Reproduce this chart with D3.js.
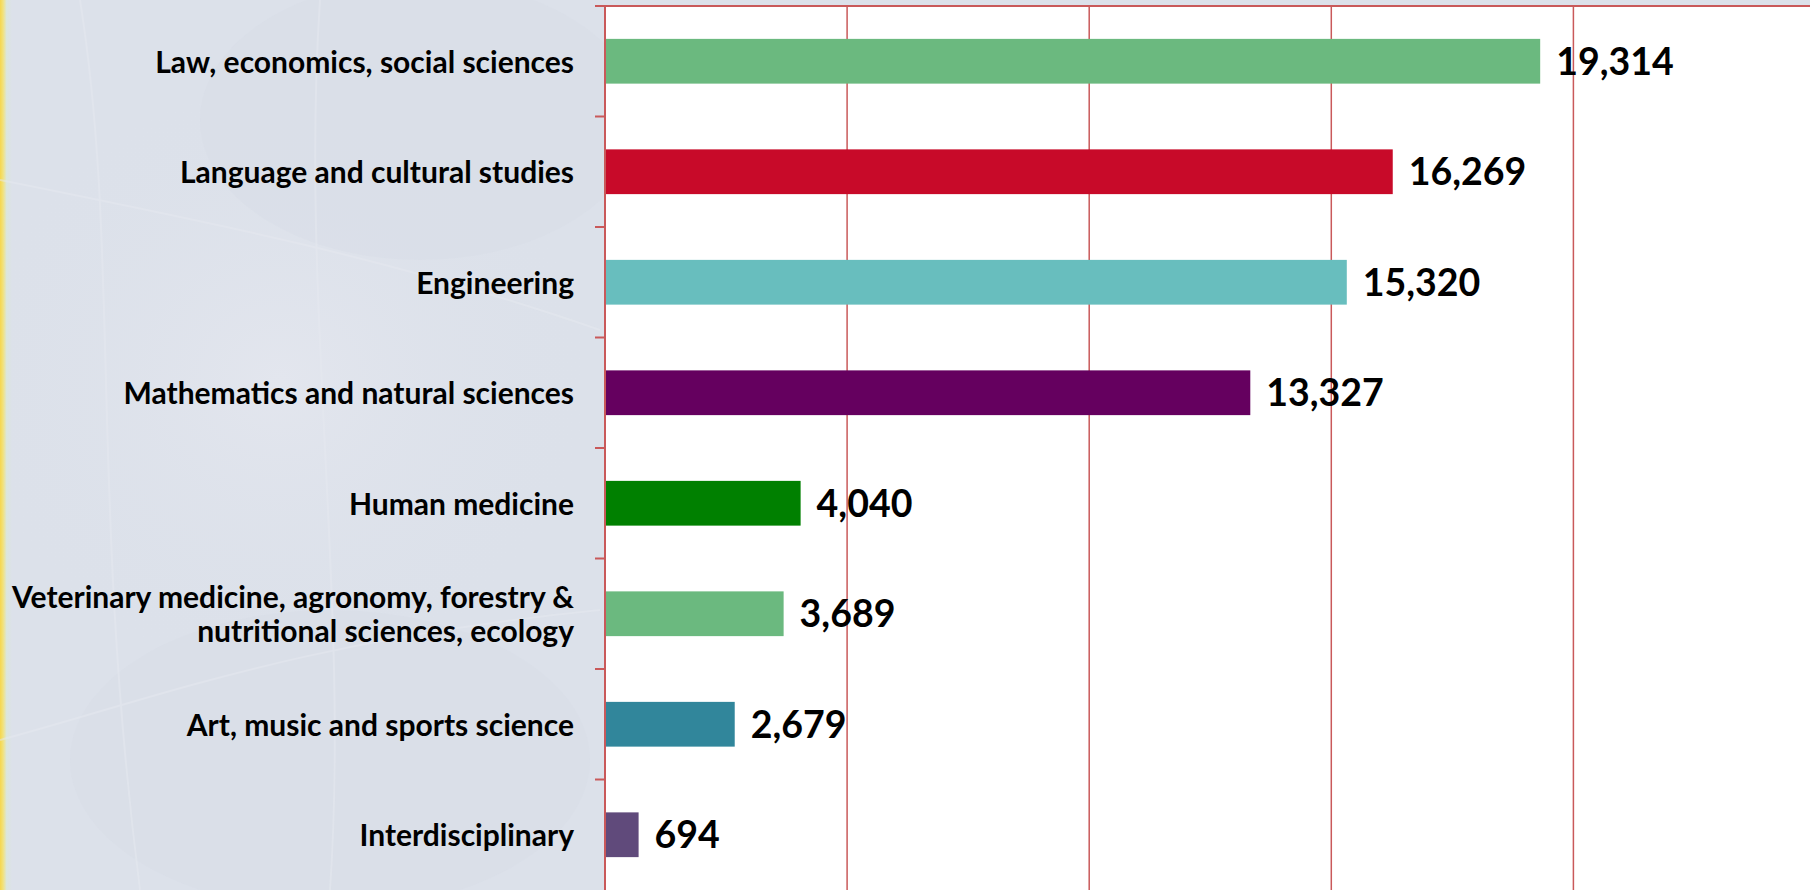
<!DOCTYPE html>
<html>
<head>
<meta charset="utf-8">
<script src="https://cdn.jsdelivr.net/npm/d3@7"></script>
<style>
  html, body { margin: 0; padding: 0; background: #dce1ea; overflow: hidden; }
  svg { display: block; }
</style>
</head>
<body>
<svg id="chart"></svg>
<script>
'use strict';

// data
var categories = [
  'Law, economics, social sciences',
  'Language and cultural studies',
  'Engineering',
  'Mathematics and natural sciences',
  'Human medicine',
  'Veterinary medicine, agronomy, forestry &\nnutritional sciences, ecology',
  'Art, music and sports science',
  'Interdisciplinary'
];
var values = [19314, 16269, 15320, 13327, 4040, 3689, 2679, 694];
var barColors = ['#6bb97f', '#c80a29', '#68bebe', '#65005f', '#008000', '#6bb97f', '#31869b', '#604a7b'];
var gridTicks = [5000, 10000, 15000, 20000];

var width = 1810, height = 890;
var margin = {top: 6, left: 605};
var lineColor = '#c9595a';

var svg = d3.select('#chart').attr('width', width).attr('height', height);

// background: grey-blue panel with a yellow strip on the far left
var defs = svg.append('defs');
var edge = defs.append('linearGradient').attr('id', 'edge')
  .attr('x1', 0).attr('x2', 1).attr('y1', 0).attr('y2', 0);
edge.append('stop').attr('offset', '0%').attr('stop-color', '#f6d64c');
edge.append('stop').attr('offset', '25%').attr('stop-color', '#f1e27a');
edge.append('stop').attr('offset', '55%').attr('stop-color', '#dbe6dc');
edge.append('stop').attr('offset', '100%').attr('stop-color', '#dce1ea');

var glow = defs.append('radialGradient').attr('id', 'glow');
glow.append('stop').attr('offset', '0%').attr('stop-color', '#e3e6ee');
glow.append('stop').attr('offset', '100%').attr('stop-color', '#dce1ea').attr('stop-opacity', 0);

svg.append('rect').attr('width', width).attr('height', height).attr('fill', '#dce1ea');
svg.append('ellipse').attr('cx', 280).attr('cy', 380).attr('rx', 320).attr('ry', 300).attr('fill', 'url(#glow)');
svg.append('ellipse').attr('cx', 420).attr('cy', 120).attr('rx', 220).attr('ry', 140).attr('fill', '#d6dbe5').attr('opacity', 0.4);
svg.append('ellipse').attr('cx', 330).attr('cy', 760).attr('rx', 260).attr('ry', 150).attr('fill', '#d8dde7').attr('opacity', 0.4);
svg.append('rect').attr('width', 12).attr('height', height).attr('fill', 'url(#edge)');

// faint map-like strokes
var faint = svg.append('g').attr('stroke', '#e6e9f0').attr('stroke-width', 2).attr('fill', 'none').attr('opacity', 0.5);
faint.append('path').attr('d', 'M0,740 C150,700 300,640 600,610');
faint.append('path').attr('d', 'M80,0 C120,250 90,500 140,890');
faint.append('path').attr('d', 'M0,180 C200,220 400,260 600,330');
faint.append('path').attr('d', 'M320,0 C300,300 350,600 330,890');

// scales
var x = d3.scaleLinear().domain([0, 25000]).range([margin.left, margin.left + 5 * 242.1]);
var y = d3.scaleBand().domain(categories).range([margin.top, height]).paddingInner(0).paddingOuter(0);
var barH = y.bandwidth() * 0.405;

// plot area
svg.append('rect')
  .attr('x', margin.left).attr('y', margin.top)
  .attr('width', width - margin.left).attr('height', height - margin.top)
  .attr('fill', '#ffffff');

// vertical gridlines
svg.append('g').attr('class', 'grid')
  .selectAll('line')
  .data(gridTicks)
  .enter().append('line')
  .attr('x1', function (d) { return x(d); })
  .attr('x2', function (d) { return x(d); })
  .attr('y1', margin.top)
  .attr('y2', height)
  .attr('stroke', lineColor)
  .attr('stroke-width', 1.5);

// bars
svg.append('g').attr('class', 'bars')
  .selectAll('rect')
  .data(values)
  .enter().append('rect')
  .attr('x', x(0))
  .attr('y', function (d, i) { return y(categories[i]) + (y.bandwidth() - barH) / 2; })
  .attr('width', function (d) { return x(d) - x(0); })
  .attr('height', barH)
  .attr('fill', function (d, i) { return barColors[i]; });

// top border
svg.append('line')
  .attr('x1', margin.left - 10).attr('x2', width)
  .attr('y1', margin.top).attr('y2', margin.top)
  .attr('stroke', lineColor).attr('stroke-width', 2);

// category axis with ticks between categories
var axis = svg.append('g').attr('class', 'y-axis');
axis.append('line')
  .attr('x1', x(0)).attr('x2', x(0))
  .attr('y1', margin.top).attr('y2', height)
  .attr('stroke', lineColor).attr('stroke-width', 2);
axis.selectAll('line.tick')
  .data(categories)
  .enter().append('line')
  .attr('class', 'tick')
  .attr('x1', x(0) - 10).attr('x2', x(0))
  .attr('y1', function (d) { return y(d); })
  .attr('y2', function (d) { return y(d); })
  .attr('stroke', lineColor).attr('stroke-width', 2);

var fontFamily = 'Lato, "Open Sans", sans-serif';

// category labels (multi-line where the name has a break)
var labels = axis.selectAll('text')
  .data(categories)
  .enter().append('text')
  .attr('x', 574)
  .attr('text-anchor', 'end')
  .attr('font-family', fontFamily)
  .attr('font-weight', 700)
  .attr('font-size', 30)
  .attr('fill', '#000');

labels.each(function (d) {
  var lines = d.split('\n');
  var cy = y(d) + y.bandwidth() / 2;
  var lh = 34;
  var t = d3.select(this);
  lines.forEach(function (ln, k) {
    t.append('tspan')
      .attr('x', 574)
      .attr('y', cy + (k - (lines.length - 1) / 2) * lh + 4)
      .attr('dominant-baseline', 'middle')
      .text(ln);
  });
});

// value labels
svg.append('g').attr('class', 'values')
  .selectAll('text')
  .data(values)
  .enter().append('text')
  .attr('x', function (d) { return x(d) + 16; })
  .attr('y', function (d, i) { return y(categories[i]) + y.bandwidth() / 2 + 4; })
  .attr('dominant-baseline', 'middle')
  .attr('font-family', fontFamily)
  .attr('font-weight', 700)
  .attr('font-size', 37.5)
  .attr('fill', '#000')
  .text(function (d) { return d3.format(',')(d); });
</script>
</body>
</html>
